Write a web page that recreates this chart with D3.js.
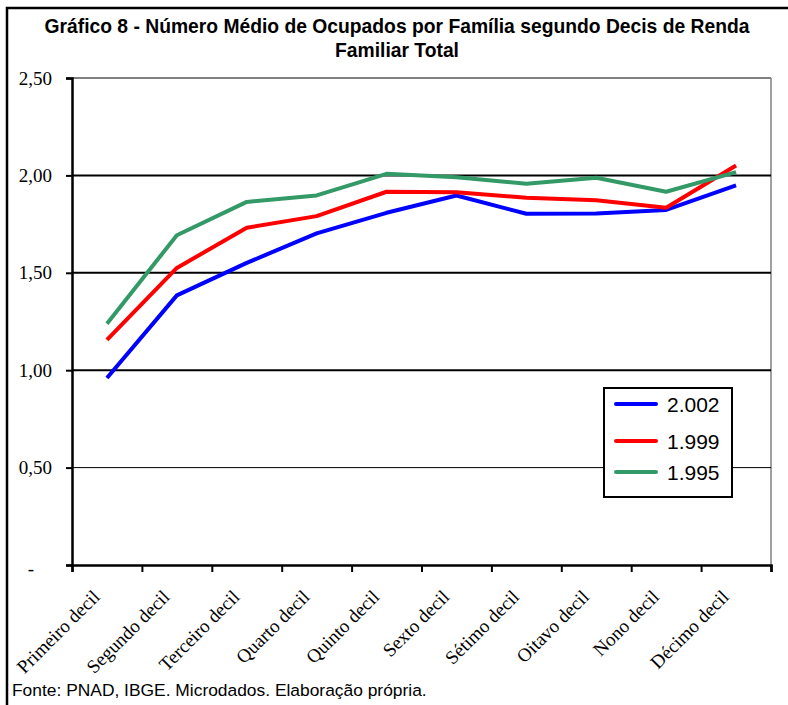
<!DOCTYPE html>
<html>
<head>
<meta charset="utf-8">
<script src="https://cdn.jsdelivr.net/npm/d3@7"></script>
<style>
    body { margin: 0; background: #fff; }
    svg { display: block; }
</style>
</head>
<body>
<div id="chart"></div>
<script>
//Chart data
var categories = ["Primeiro decil", "Segundo decil", "Terceiro decil", "Quarto decil", "Quinto decil",
    "Sexto decil", "Sétimo decil", "Oitavo decil", "Nono decil", "Décimo decil"];
var years = ["2.002", "1.999", "1.995"];
var colors = ["#0000ff", "#ff0000", "#339966"];
var values2002 = [0.96, 1.384, 1.551, 1.702, 1.808, 1.897, 1.803, 1.805, 1.823, 1.949];
var values1999 = [1.156, 1.525, 1.731, 1.791, 1.916, 1.914, 1.885, 1.873, 1.834, 2.051];
var values1995 = [1.238, 1.693, 1.864, 1.897, 2.008, 1.990, 1.957, 1.988, 1.916, 2.017];
var yTicks = [0, 0.5, 1, 1.5, 2, 2.5];

var width = 788, height = 705;
//plot area (note: "top" is reserved by the browser, so prefix everything)
var plotLeft = 72, plotRight = 771, plotTop = 78, plotBottom = 565;

var svg = d3.select("#chart").append("svg")
    .attr("width", width).attr("height", height);

//outer frame (cut at the right and bottom in the original)
svg.append("rect")
    .attr("x", 7).attr("y", 8)
    .attr("width", 800).attr("height", 720)
    .attr("fill", "none").attr("stroke", "#000").attr("stroke-width", 2.5);

//title
var title = svg.append("text")
    .attr("text-anchor", "middle")
    .attr("font-family", "Liberation Sans, Arial, sans-serif")
    .attr("font-weight", "bold")
    .attr("font-size", 19.3);
title.append("tspan").attr("x", 397).attr("y", 33)
    .text("Gráfico 8 - Número Médio de Ocupados por Família segundo Decis de Renda");
title.append("tspan").attr("x", 397).attr("y", 57)
    .text("Familiar Total");

/* SCALES */
var x = d3.scaleBand().domain(categories).range([plotLeft, plotRight]);
var xTick = d3.scaleLinear().domain([0, categories.length]).range([plotLeft, plotRight]);
var y = d3.scaleLinear().domain([0, 2.5]).range([plotBottom, plotTop]);

//plot frame: grey top and right
svg.append("line")
    .attr("x1", plotLeft).attr("x2", plotRight).attr("y1", y(2.5)).attr("y2", y(2.5))
    .attr("stroke", "#808080").attr("stroke-width", 2);
svg.append("line")
    .attr("x1", plotRight).attr("x2", plotRight).attr("y1", plotTop).attr("y2", plotBottom)
    .attr("stroke", "#808080").attr("stroke-width", 1.5);

//gridlines
svg.append("g").selectAll("line")
    .data(yTicks.filter(function (d) { return d > 0 && d < 2.5; }))
    .enter().append("line")
    .attr("x1", plotLeft).attr("x2", plotRight)
    .attr("y1", function (d) { return y(d); })
    .attr("y2", function (d) { return y(d); })
    .attr("stroke", "#000")
    .attr("stroke-width", function (d) { return d === 0.5 ? 1 : 2; });

/* AXES */
var yAxis = svg.append("g")
    .attr("transform", "translate(" + plotLeft + ",0)")
    .call(d3.axisLeft(y).tickValues(yTicks).tickSize(6).tickPadding(14)
        .tickFormat(function (d) {
            return d === 0 ? "-" : d3.format(".2f")(d).replace(".", ",");
        }));
yAxis.select(".domain").attr("stroke-width", 2.5);
yAxis.selectAll(".tick line").attr("stroke-width", 2);
yAxis.selectAll("text")
    .attr("font-family", "Liberation Serif, Times New Roman, serif")
    .attr("font-size", 19)
    .attr("fill", "#000");
yAxis.selectAll(".tick").filter(function (d) { return d === 0; })
    .select("text").attr("x", -38).attr("dy", "0.5em");

var xAxis = svg.append("g")
    .attr("transform", "translate(0," + plotBottom + ")")
    .call(d3.axisBottom(xTick).ticks(categories.length).tickSize(7).tickFormat(""));
xAxis.select(".domain").attr("stroke-width", 2.5);
xAxis.selectAll(".tick line").attr("stroke-width", 2);

//rotated category labels
svg.append("g").selectAll("text")
    .data(categories).enter().append("text")
    .attr("transform", function (d) {
        return "translate(" + (x(d) + x.bandwidth() / 2 - 6) + "," + 598 + ") rotate(-45)";
    })
    .attr("text-anchor", "end")
    .attr("font-family", "Liberation Serif, Times New Roman, serif")
    .attr("font-size", 19)
    .text(function (d) { return d; });

/* SERIES */
var series = [values2002, values1999, values1995];
var line = d3.line()
    .x(function (d, i) { return x(categories[i]) + x.bandwidth() / 2; })
    .y(function (d) { return y(d); });

svg.append("g").selectAll("path")
    .data(series).enter().append("path")
    .attr("d", line)
    .attr("fill", "none")
    .attr("stroke", function (d, i) { return colors[i]; })
    .attr("stroke-width", 4)
    .attr("stroke-linejoin", "round");

/* LEGEND */
var legend = svg.append("g").attr("transform", "translate(604,388)");
legend.append("rect")
    .attr("width", 128).attr("height", 109)
    .attr("fill", "#fff").attr("stroke", "#000").attr("stroke-width", 2);
var rows = legend.selectAll("g.row")
    .data(years).enter().append("g")
    .attr("class", "row")
    .attr("transform", function (d, i) { return "translate(0," + [16, 53, 84][i] + ")"; });
rows.append("line")
    .attr("x1", 12).attr("x2", 52)
    .attr("stroke", function (d, i) { return colors[i]; })
    .attr("stroke-width", 4)
    .attr("stroke-linecap", "round");
rows.append("text")
    .attr("x", 63).attr("dy", "0.36em")
    .attr("font-family", "Liberation Sans, Arial, sans-serif")
    .attr("font-size", 21)
    .text(function (d) { return d; });

//source note
svg.append("text")
    .attr("x", 12).attr("y", 696)
    .attr("font-family", "Liberation Sans, Arial, sans-serif")
    .attr("font-size", 17.4)
    .text("Fonte: PNAD, IBGE. Microdados. Elaboração própria.");
</script>
</body>
</html>
